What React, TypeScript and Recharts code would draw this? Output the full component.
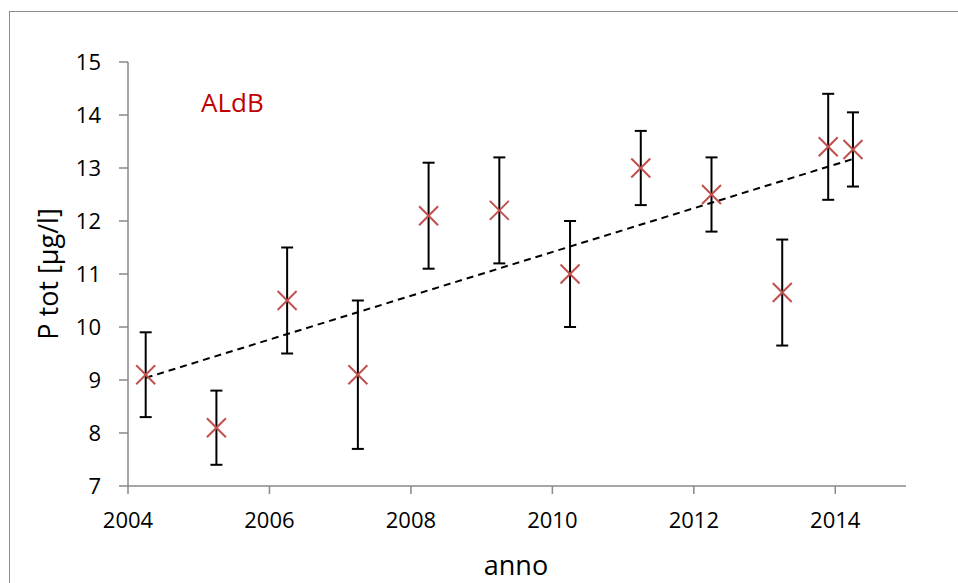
import React from 'react'
import { ScatterChart, Scatter, XAxis, YAxis, ErrorBar } from 'recharts'

// anno (decimal year of the sampling campaign)
const years = [2004.25, 2005.25, 2006.25, 2007.25, 2008.25, 2009.25, 2010.25, 2011.25, 2012.25, 2013.25, 2013.9, 2014.25]
// P tot mean values [µg/l]
const ptot = [9.1, 8.1, 10.5, 9.1, 12.1, 12.2, 11.0, 13.0, 12.5, 10.65, 13.4, 13.35]
// symmetric error (± µg/l)
const errors = [0.8, 0.7, 1.0, 1.4, 1.0, 1.0, 1.0, 0.7, 0.7, 1.0, 1.0, 0.7]

// linear trend end points
const trendYears = [2004.25, 2014.25]
const trendValues = [9.04, 13.17]

const xTicks = [2004, 2006, 2008, 2010, 2012, 2014]
const yTicks = [7, 8, 9, 10, 11, 12, 13, 14, 15]

const FONT = '"Open Sans", sans-serif'
const AXIS = '#898989'

const points = years.map((x, i) => ({ x, y: ptot[i], err: errors[i] }))
const trend = trendYears.map((x, i) => ({ x, y: trendValues[i] }))

const Cross = (props: any) => {
  const { cx, cy } = props
  const s = 9.5
  return (
    <g stroke="#c0504d" strokeWidth={2}>
      <line x1={cx - s} y1={cy - s} x2={cx + s} y2={cy + s} />
      <line x1={cx - s} y1={cy + s} x2={cx + s} y2={cy - s} />
    </g>
  )
}

export default function App() {
  return (
    <div style={{ position: 'fixed', left: 0, top: 0, width: 958, height: 583, overflow: 'hidden', background: '#fff' }}>
      <div
        style={{
          position: 'absolute',
          left: 9,
          top: 11,
          width: 1100,
          height: 1100,
          border: '1.5px solid #8c8c8c'
        }}
      />
      <div style={{ position: 'absolute', left: 0, top: 0 }}>
        <ScatterChart width={958} height={583} margin={{ top: 62, right: 52, bottom: 37, left: 0 }}>
          <XAxis
            type="number"
            dataKey="x"
            domain={[2004, 2015]}
            ticks={xTicks}
            height={60}
            stroke={AXIS}
            strokeWidth={1.5}
            tickSize={8}
            tickMargin={18}
            tick={{ fill: '#000', fontSize: 22, fontFamily: FONT }}
            label={{
              content: () => (
                <text x={516} y={575} textAnchor="middle" fontSize={27} fontFamily={FONT} fill="#000">
                  anno
                </text>
              )
            }}
          />
          <YAxis
            type="number"
            dataKey="y"
            domain={[7, 15]}
            ticks={yTicks}
            width={128}
            stroke={AXIS}
            strokeWidth={1.5}
            tickSize={9}
            tickMargin={18}
            tick={{ fill: '#000', fontSize: 22, fontFamily: FONT }}
            label={{
              content: () => (
                <g>
                  <text
                    x={58}
                    y={274}
                    transform="rotate(-90 58 274)"
                    textAnchor="middle"
                    fontSize={27}
                    fontFamily={FONT}
                    fill="#000"
                  >
                    P tot [µg/l]
                  </text>
                  <text x={201} y={112} fontSize={26} fontFamily={FONT} fill="#c00000">
                    ALdB
                  </text>
                </g>
              )
            }}
          />
          <Scatter
            data={trend}
            isAnimationActive={false}
            legendType="none"
            line={{ stroke: '#000', strokeWidth: 2, strokeDasharray: '7 5' }}
            shape={() => <g />}
          />
          <Scatter data={points} isAnimationActive={false} shape={Cross}>
            <ErrorBar
              dataKey="err"
              direction="y"
              width={6}
              stroke="#000"
              strokeWidth={2}
              isAnimationActive={false}
            />
          </Scatter>
        </ScatterChart>
      </div>
    </div>
  )
}
